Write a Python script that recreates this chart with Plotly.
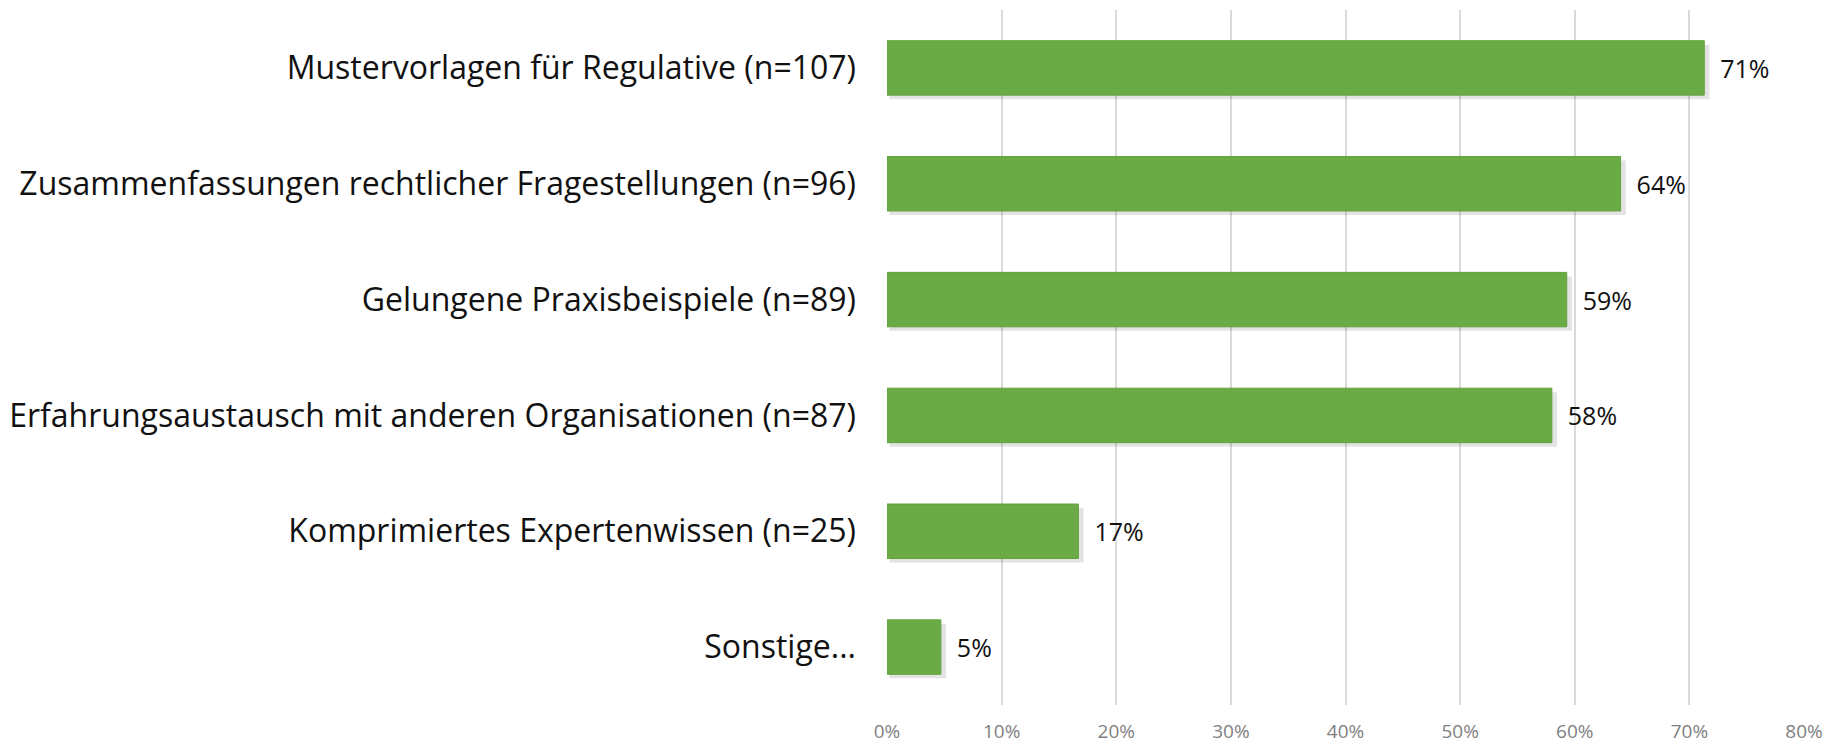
import plotly.graph_objects as go

categories = [
    "Mustervorlagen für Regulative (n=107)",
    "Zusammenfassungen rechtlicher Fragestellungen (n=96)",
    "Gelungene Praxisbeispiele (n=89)",
    "Erfahrungsaustausch mit anderen Organisationen (n=87)",
    "Komprimiertes Expertenwissen (n=25)",
    "Sonstige...",
]
shares = [71.3, 64.0, 59.3, 58.0, 16.7, 4.7]
value_labels = ["71%", "64%", "59%", "58%", "17%", "5%"]
x_ticks = [0, 10, 20, 30, 40, 50, 60, 70, 80]
x_tick_labels = ["0%", "10%", "20%", "30%", "40%", "50%", "60%", "70%", "80%"]

bar_width = 0.47

fig = go.Figure()

# soft drop shadow under each bar
fig.add_trace(go.Bar(
    x=[v + 0.25 for v in shares],
    y=categories,
    base=0.2,
    orientation="h",
    width=bar_width,
    offset=-bar_width / 2 + 0.035,
    marker=dict(color="rgba(0,0,0,0.11)", line=dict(width=0)),
    hoverinfo="skip",
))

fig.add_trace(go.Bar(
    x=shares,
    y=categories,
    orientation="h",
    width=bar_width,
    offset=-bar_width / 2,
    marker=dict(color="#6aab45", line=dict(color="#62a13d", width=1)),
    text=value_labels,
    texttemplate="  %{text}",
    textposition="outside",
    textfont=dict(size=25, color="#111111"),
    cliponaxis=False,
))

fig.update_layout(
    width=1838,
    height=745,
    margin=dict(l=879, r=42, t=2, b=48),
    plot_bgcolor="white",
    paper_bgcolor="white",
    font=dict(family="Open Sans, sans-serif"),
    barmode="overlay",
    showlegend=False,
    xaxis=dict(
        range=[0, 80],
        tickvals=x_ticks,
        ticktext=x_tick_labels,
        showgrid=True,
        gridcolor="#d9d9d9",
        gridwidth=1.5,
        zeroline=False,
        showline=False,
        tickfont=dict(size=19, color="#7f7f7f"),
        ticklabelstandoff=13,
    ),
    yaxis=dict(
        autorange="reversed",
        automargin=False,
        tickfont=dict(size=32, color="#111111"),
        ticklabelstandoff=30,
        showgrid=False,
    ),
)

fig.write_html("out.html")
